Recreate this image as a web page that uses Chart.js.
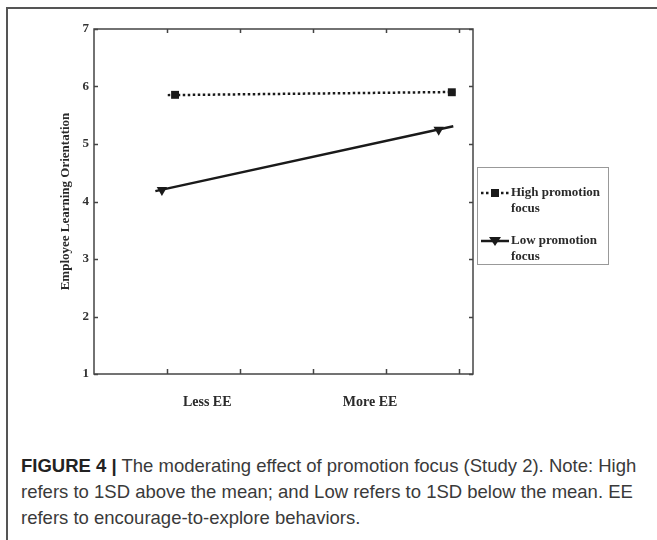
<!DOCTYPE html>
<html>
<head>
<meta charset="utf-8">
<script src="https://cdn.jsdelivr.net/npm/chart.js@4/dist/chart.umd.min.js"></script>
<style>
  html, body { margin: 0; padding: 0; background: #fff; }
  body { width: 657px; height: 540px; position: relative; overflow: hidden; }
  #frame { position: absolute; left: 6px; top: 7px; width: 700px; height: 600px;
           border-top: 2px solid #555; border-left: 2px solid #555; }
  #wrap { position: absolute; left: 0; top: 0; width: 657px; height: 420px; }
  #caption { position: absolute; left: 21px; top: 453px; width: 640px; white-space: nowrap;
             font-family: "Liberation Sans", Arial, sans-serif; font-size: 18.5px;
             line-height: 26px; color: #3a3a3a; }
  #caption b { color: #222; }
</style>
</head>
<body>
<div id="frame"></div>
<div id="wrap"><canvas id="c" width="657" height="420"></canvas></div>
<div id="caption"><b>FIGURE 4 |</b> The moderating effect of promotion focus (Study 2). Note: High<br>refers to 1SD above the mean; and Low refers to 1SD below the mean. EE<br>refers to encourage-to-explore behaviors.</div>
<script>
// ---- data ----
const seriesNames = ['High promotion focus', 'Low promotion focus'];
const highLineX = [1.01, 4.97];
const highLineY = [5.85, 5.905];
const highMarkX = [1.11, 4.90];
const highMarkY = [5.855, 5.90];
const lowLineX = [0.84, 4.92];
const lowLineY = [4.18, 5.31];
const lowMarkX = [0.93, 4.72];
const lowMarkY = [4.20, 5.25];
const yTicks = [1, 2, 3, 4, 5, 6, 7];
const xTicks = [1, 2, 3, 4, 5];
const groupLabels = ['Less EE', 'More EE'];
const groupLabelX = [1.55, 3.78];
const yTitle = 'Employee Learning Orientation';

const pts = (xs, ys) => xs.map((x, i) => ({ x: x, y: ys[i] }));
const SERIF = '"Liberation Serif", "Times New Roman", serif';
const AX = '#444';

function drawMarker(ctx, kind, x, y) {
  ctx.save();
  ctx.fillStyle = '#1a1a1a';
  if (kind === 'rect') {
    ctx.fillRect(x - 4, y - 4, 8, 8);
  } else {
    ctx.beginPath();
    ctx.moveTo(x - 6, y - 4);
    ctx.lineTo(x + 6, y - 4);
    ctx.lineTo(x, y + 5);
    ctx.closePath();
    ctx.fill();
  }
  ctx.restore();
}

const framePlugin = {
  id: 'framePlugin',
  afterDraw(chart) {
    const ctx = chart.ctx, a = chart.chartArea;
    const xs = chart.scales.x, ys = chart.scales.y;
    ctx.save();
    // box
    ctx.strokeStyle = AX; ctx.lineWidth = 1.5;
    ctx.strokeRect(a.left, a.top, a.right - a.left, a.bottom - a.top);
    // inward ticks
    ctx.beginPath();
    yTicks.forEach(v => {
      const p = Math.round(ys.getPixelForValue(v)) + 0.5;
      ctx.moveTo(a.left, p); ctx.lineTo(a.left + 4, p);
      ctx.moveTo(a.right, p); ctx.lineTo(a.right - 4, p);
    });
    xTicks.forEach(v => {
      const p = Math.round(xs.getPixelForValue(v)) + 0.5;
      ctx.moveTo(p, a.bottom); ctx.lineTo(p, a.bottom - 5);
      ctx.moveTo(p, a.top); ctx.lineTo(p, a.top + 4);
    });
    ctx.stroke();
    // y tick labels
    ctx.fillStyle = '#333';
    ctx.font = 'bold 13px ' + SERIF;
    ctx.textAlign = 'right'; ctx.textBaseline = 'middle';
    yTicks.forEach(v => ctx.fillText(String(v), a.left - 5, ys.getPixelForValue(v)));
    // group labels under axis
    ctx.fillStyle = '#2a2a2a';
    ctx.font = 'bold 14px ' + SERIF;
    ctx.textAlign = 'center'; ctx.textBaseline = 'middle';
    groupLabels.forEach((t, i) => ctx.fillText(t, xs.getPixelForValue(groupLabelX[i]), 402));
    // y title
    ctx.save();
    ctx.translate(66, (a.top + a.bottom) / 2);
    ctx.rotate(-Math.PI / 2);
    ctx.font = 'bold 13px ' + SERIF;
    ctx.fillText(yTitle, 0, 0);
    ctx.restore();
    // legend
    const lx = 477, ly = 167, lw = 131, lh = 97;
    ctx.strokeStyle = '#999'; ctx.lineWidth = 1;
    ctx.strokeRect(lx + 0.5, ly + 0.5, lw, lh);
    const entries = [
      { y: 193, dash: [2.5, 2.5], kind: 'rect', lines: [seriesNames[0].replace(' focus', ''), 'focus'] },
      { y: 241, dash: [], kind: 'tri', lines: [seriesNames[1].replace(' focus', ''), 'focus'] }
    ];
    entries.forEach(e => {
      ctx.save();
      ctx.strokeStyle = '#1a1a1a'; ctx.lineWidth = 2.5;
      ctx.setLineDash(e.dash);
      ctx.beginPath(); ctx.moveTo(481, e.y); ctx.lineTo(509, e.y); ctx.stroke();
      ctx.restore();
      drawMarker(ctx, e.kind, 495, e.y);
      ctx.fillStyle = '#2a2a2a';
      ctx.font = 'bold 13px ' + SERIF;
      ctx.textAlign = 'left'; ctx.textBaseline = 'middle';
      ctx.fillText(e.lines[0], 511, e.y);
      ctx.fillText(e.lines[1], 511, e.y + 16);
    });
    ctx.restore();
  }
};

new Chart(document.getElementById('c'), {
  type: 'scatter',
  data: {
    datasets: [
      { label: seriesNames[0], data: pts(highLineX, highLineY), showLine: true,
        borderColor: '#1a1a1a', borderWidth: 2.5, borderDash: [2.5, 2.5], pointRadius: 0 },
      { label: seriesNames[0] + ' markers', data: pts(highMarkX, highMarkY), showLine: false,
        pointStyle: 'rect', pointRadius: 5.6, backgroundColor: '#1a1a1a', borderColor: '#1a1a1a', borderWidth: 0 },
      { label: seriesNames[1], data: pts(lowLineX, lowLineY), showLine: true,
        borderColor: '#1a1a1a', borderWidth: 2.5, pointRadius: 0 },
      { label: seriesNames[1] + ' markers', data: pts(lowMarkX, lowMarkY), showLine: false,
        pointStyle: 'triangle', rotation: 180, pointRadius: 6, backgroundColor: '#1a1a1a', borderColor: '#1a1a1a', borderWidth: 0 }
    ]
  },
  options: {
    responsive: false,
    animation: false,
    layout: { padding: { top: 29, right: 184, left: 0, bottom: 0 } },
    plugins: { legend: { display: false }, tooltip: { enabled: false } },
    scales: {
      x: {
        type: 'linear', min: 0, max: 5.19,
        ticks: { display: false, stepSize: 1 },
        grid: { display: false }, border: { display: false },
        afterFit: s => { s.height = 46; }
      },
      y: {
        type: 'linear', min: 1, max: 7,
        ticks: { display: false, stepSize: 1 },
        grid: { display: false }, border: { display: false },
        afterFit: s => { s.width = 94; }
      }
    }
  },
  plugins: [framePlugin]
});
</script>
</body>
</html>
